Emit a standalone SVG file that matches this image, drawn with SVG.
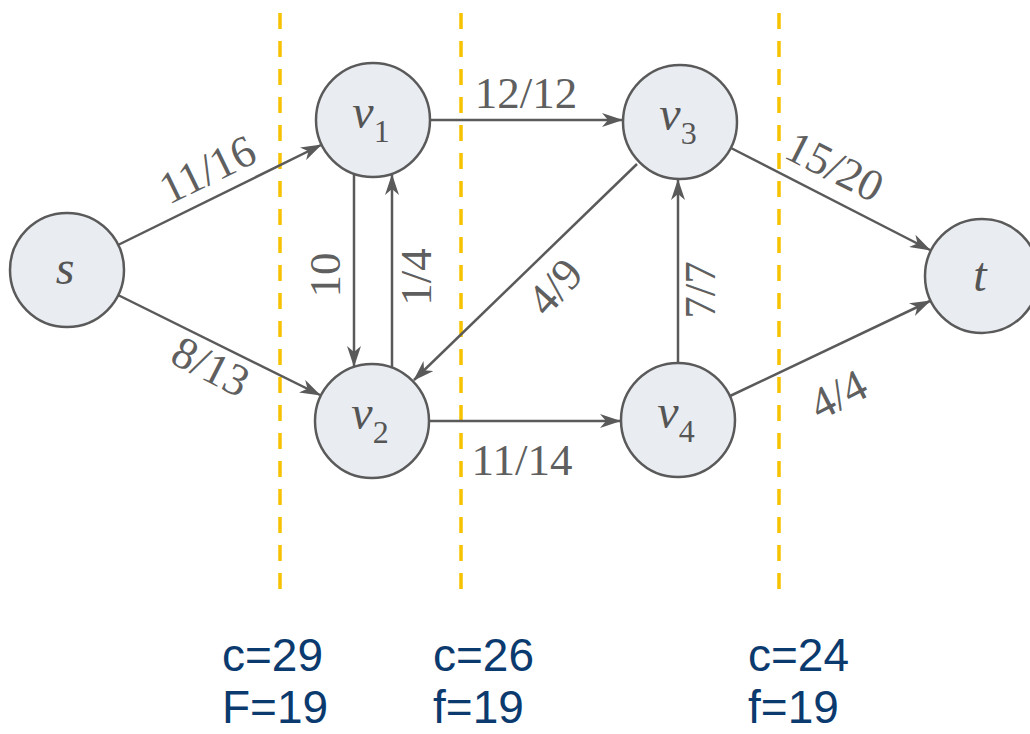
<svg xmlns="http://www.w3.org/2000/svg" width="1030" height="734" viewBox="0 0 1030 734">
<defs>
<style>
.node circle{fill:#e9ecf1;stroke:#5a5a5a;stroke-width:2.5}
.nl{font-family:"Liberation Serif",serif;font-style:italic;font-size:48px;fill:#555;text-anchor:middle}
.sub{font-size:32px;font-style:normal}
.edge{stroke:#5a5a5a;stroke-width:2.5;fill:none;marker-end:url(#arr)}
.el{font-family:"Liberation Serif",serif;font-size:45px;fill:#5f5f5f;text-anchor:middle}
.cut{stroke:#f7c200;stroke-width:3.5;stroke-dasharray:16 12;fill:none}
.cap{font-family:"Liberation Sans",Arial,sans-serif;font-size:46px;fill:#0b3a6e}
</style>
<marker id="arr" markerWidth="22" markerHeight="14" refX="20" refY="7" orient="auto" markerUnits="userSpaceOnUse">
<path d="M0,0 L21,7 L0,14 L6,7 z" fill="#5a5a5a"/>
</marker>
</defs>
<rect x="0" y="0" width="1030" height="734" fill="#ffffff"/>
<g id="cuts">
<line class="cut" x1="280" y1="13" x2="280" y2="590"/>
<line class="cut" x1="461" y1="13" x2="461" y2="590"/>
<line class="cut" x1="779" y1="13" x2="779" y2="590"/>
</g>
<g id="connectors">
<line class="edge" x1="118" y1="245" x2="321" y2="145"/>
<line class="edge" x1="118" y1="295" x2="320" y2="395"/>
<line class="edge" x1="354" y1="174" x2="354" y2="366"/>
<line class="edge" x1="392" y1="367" x2="392" y2="175"/>
<line class="edge" x1="430" y1="120" x2="622" y2="120"/>
<line class="edge" x1="637" y1="164" x2="414" y2="380"/>
<line class="edge" x1="429" y1="421" x2="620" y2="421"/>
<line class="edge" x1="678" y1="364" x2="678" y2="180"/>
<line class="edge" x1="731" y1="148" x2="930" y2="250"/>
<line class="edge" x1="730" y1="396" x2="930" y2="301"/>
<text class="el" transform="translate(214,183) rotate(-26)">11/16</text>
<text class="el" transform="translate(204,380) rotate(27)">8/13</text>
<text class="el" transform="translate(340,275) rotate(-90)">10</text>
<text class="el" transform="translate(431,277) rotate(-90)">1/4</text>
<text class="el" x="526" y="108">12/12</text>
<text class="el" transform="translate(566,297) rotate(-48)">4/9</text>
<text class="el" x="522" y="475">11/14</text>
<text class="el" transform="translate(715,290) rotate(-90)">7/7</text>
<text class="el" transform="translate(828,180) rotate(27)">15/20</text>
<text class="el" transform="translate(845,408) rotate(-27)">4/4</text>
</g>
<g id="s" class="node"><circle cx="67" cy="270" r="57"/><text class="nl" x="65" y="284">s</text></g>
<g id="v1" class="node"><circle cx="373" cy="120" r="57"/><text class="nl" x="371" y="128">v<tspan class="sub" dy="14">1</tspan></text></g>
<g id="v2" class="node"><circle cx="372" cy="421" r="57"/><text class="nl" x="370" y="429">v<tspan class="sub" dy="14">2</tspan></text></g>
<g id="v3" class="node"><circle cx="680" cy="122" r="57"/><text class="nl" x="678" y="130">v<tspan class="sub" dy="14">3</tspan></text></g>
<g id="v4" class="node"><circle cx="678" cy="420" r="57"/><text class="nl" x="676" y="428">v<tspan class="sub" dy="14">4</tspan></text></g>
<g id="t" class="node"><circle cx="982" cy="276" r="57"/><text class="nl" x="980" y="291">t</text></g>
<g id="captions">
<text class="cap" x="222" y="671">c=29</text>
<text class="cap" x="222" y="723">F=19</text>
<text class="cap" x="433" y="671">c=26</text>
<text class="cap" x="433" y="723">f=19</text>
<text class="cap" x="748" y="671">c=24</text>
<text class="cap" x="748" y="723">f=19</text>
</g>
</svg>
